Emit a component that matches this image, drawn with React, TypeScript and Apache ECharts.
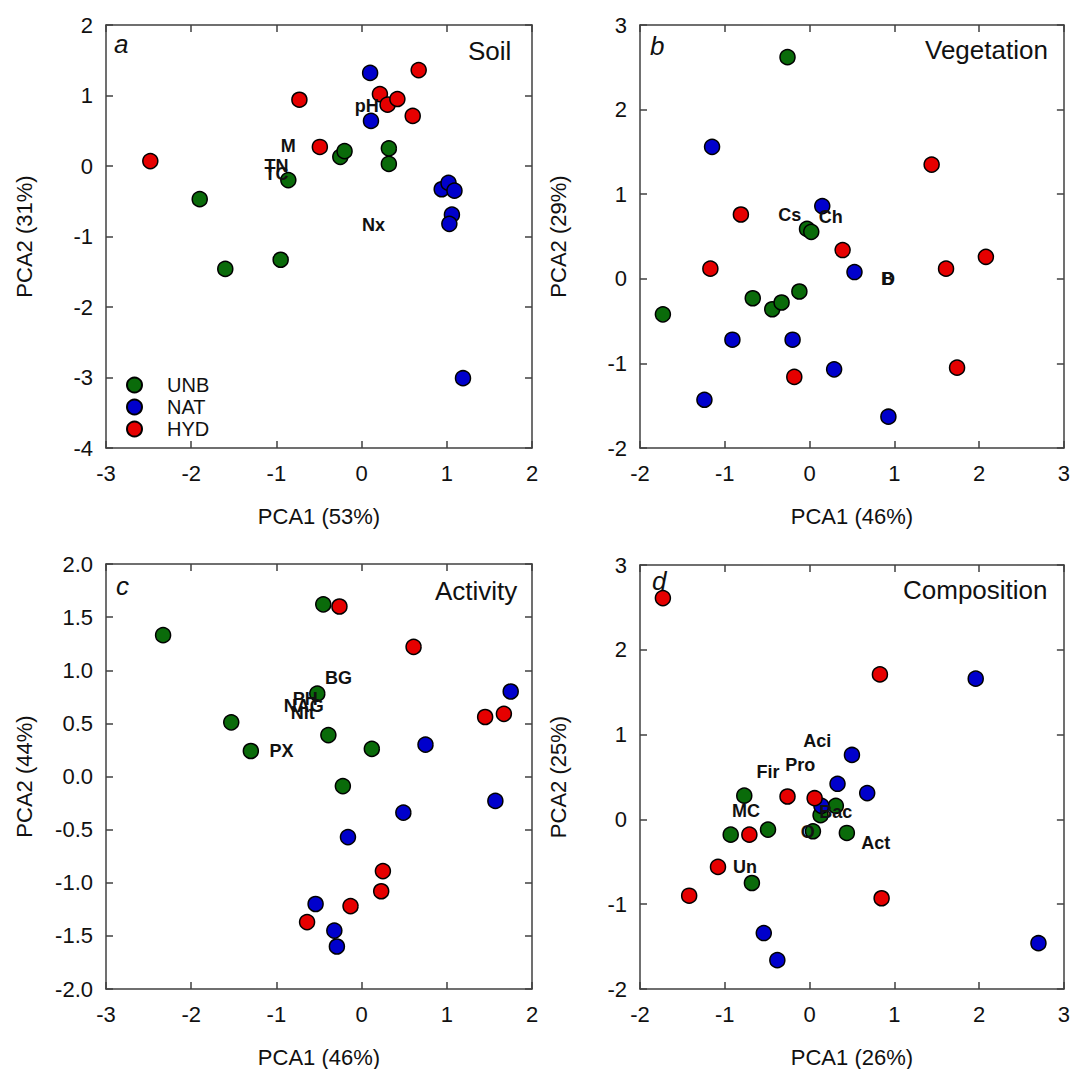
import React, { useEffect, useRef } from 'react';
import * as echarts from 'echarts';

// ---------- data ----------
const groupNames = ['UNB', 'NAT', 'HYD'];
const groupColors = ['#0a6b0a', '#0000cc', '#e60000'];

// Panel a: Soil
const soilUNB = [[-1.90, -0.47], [-1.60, -1.46], [-0.95, -1.33], [-0.86, -0.20], [-0.25, 0.13], [-0.20, 0.21], [0.32, 0.25], [0.32, 0.03]];
const soilNAT = [[0.10, 1.32], [0.11, 0.64], [0.94, -0.33], [1.02, -0.24], [1.09, -0.35], [1.06, -0.69], [1.03, -0.82], [1.19, -3.01]];
const soilHYD = [[-2.48, 0.07], [-0.73, 0.94], [-0.49, 0.27], [0.215, 1.02], [0.305, 0.87], [0.42, 0.95], [0.60, 0.71], [0.67, 1.36]];
const soilLoadNames = ['pH', 'M', 'TN', 'TC', 'Nx'];
const soilLoadPos = [[0.06, 0.85], [-0.86, 0.29], [-1.0, 0.0], [-1.0, -0.11], [0.14, -0.83]];

// Panel b: Vegetation
const vegUNB = [[-0.26, 2.62], [-1.73, -0.42], [-0.67, -0.23], [-0.44, -0.36], [-0.33, -0.28], [-0.12, -0.15], [-0.03, 0.59], [0.02, 0.555]];
const vegNAT = [[-1.15, 1.56], [0.15, 0.86], [0.53, 0.08], [-0.91, -0.72], [-0.20, -0.72], [0.29, -1.07], [-1.24, -1.43], [0.93, -1.63]];
const vegHYD = [[-0.81, 0.76], [-1.17, 0.12], [0.39, 0.34], [1.44, 1.35], [1.61, 0.12], [2.08, 0.26], [1.74, -1.05], [-0.18, -1.16]];
const vegLoadNames = ['Cs', 'Ch', 'B', 'D'];
const vegLoadPos = [[-0.235, 0.76], [0.25, 0.73], [0.92, 0.0], [0.93, 0.0]];

// Panel c: Activity
const actUNB = [[-2.33, 1.33], [-0.45, 1.62], [-0.52, 0.78], [-1.53, 0.51], [-1.30, 0.24], [-0.39, 0.39], [0.12, 0.26], [-0.22, -0.09]];
const actNAT = [[1.75, 0.80], [0.75, 0.30], [1.57, -0.23], [0.49, -0.34], [-0.16, -0.57], [-0.54, -1.20], [-0.32, -1.45], [-0.29, -1.60]];
const actHYD = [[-0.26, 1.60], [0.61, 1.22], [1.45, 0.56], [1.67, 0.59], [0.25, -0.89], [0.23, -1.08], [-0.13, -1.22], [-0.64, -1.37]];
const actLoadNames = ['BG', 'PH', 'NAG', 'Nit', 'PX'];
const actLoadPos = [[-0.27, 0.93], [-0.66, 0.73], [-0.68, 0.66], [-0.69, 0.60], [-0.94, 0.24]];

// Panel d: Composition
const compUNB = [[-0.77, 0.28], [-0.93, -0.18], [-0.49, -0.12], [0.04, -0.14], [0.13, 0.05], [0.31, 0.16], [0.44, -0.16], [-0.68, -0.75]];
const compNAT = [[1.96, 1.66], [0.50, 0.76], [0.33, 0.42], [0.68, 0.31], [0.14, 0.16], [-0.54, -1.34], [-0.38, -1.66], [2.70, -1.46]];
const compHYD = [[-1.73, 2.61], [0.83, 1.71], [-0.26, 0.27], [0.06, 0.25], [-0.71, -0.18], [-1.08, -0.56], [-1.42, -0.90], [0.85, -0.93]];
const compLoadNames = ['Aci', 'Pro', 'Fir', 'MC', 'Bac', 'O', 'Act', 'Un'];
const compLoadPos = [[0.09, 0.92], [-0.11, 0.64], [-0.49, 0.56], [-0.75, 0.10], [0.31, 0.09], [-0.02, -0.15], [0.78, -0.28], [-0.76, -0.56]];

const panelLetters = ['a', 'b', 'c', 'd'];
const panelTitles = ['Soil', 'Vegetation', 'Activity', 'Composition'];
const xAxisTitles = ['PCA1 (53%)', 'PCA1 (46%)', 'PCA1 (46%)', 'PCA1 (26%)'];
const yAxisTitles = ['PCA2 (31%)', 'PCA2 (29%)', 'PCA2 (44%)', 'PCA2 (25%)'];

// ---------- layout ----------
const FONT = '"Liberation Sans", Arial, Helvetica, sans-serif';
const AXIS_COLOR = '#404040';
const TEXT_COLOR = '#111111';

const panels = [
  { grid: { left: 106, top: 25, width: 426, height: 423 }, x: [-3, 2, 1], y: [-4, 2, 1], dec: 0,
    groups: [soilUNB, soilNAT, soilHYD], loadNames: soilLoadNames, loadPos: soilLoadPos,
    letterPos: [114, 44], titlePos: [468, 51] },
  { grid: { left: 640, top: 25, width: 425, height: 423 }, x: [-2, 3, 1], y: [-2, 3, 1], dec: 0,
    groups: [vegUNB, vegNAT, vegHYD], loadNames: vegLoadNames, loadPos: vegLoadPos,
    letterPos: [650, 46], titlePos: [925, 50] },
  { grid: { left: 106, top: 564, width: 426, height: 425 }, x: [-3, 2, 1], y: [-2, 2, 0.5], dec: 1,
    groups: [actUNB, actNAT, actHYD], loadNames: actLoadNames, loadPos: actLoadPos,
    letterPos: [116, 586], titlePos: [435, 591] },
  { grid: { left: 640, top: 565, width: 425, height: 425 }, x: [-2, 3, 1], y: [-2, 3, 1], dec: 0,
    groups: [compUNB, compNAT, compHYD], loadNames: compLoadNames, loadPos: compLoadPos,
    letterPos: [652, 581], titlePos: [903, 590] },
];

function buildOption() {
  const grid: any[] = [];
  const xAxis: any[] = [];
  const yAxis: any[] = [];
  const series: any[] = [];
  const graphic: any[] = [];

  const lineStyle = { color: AXIS_COLOR, width: 1.5 };

  panels.forEach((p, i) => {
    grid.push({ ...p.grid, containLabel: false });
    const common = {
      type: 'value',
      gridIndex: i,
      axisLine: { show: true, onZero: false, lineStyle },
      axisTick: { show: true, inside: true, length: 7, lineStyle },
      splitLine: { show: false },
    };
    xAxis.push({
      ...common,
      position: 'bottom',
      min: p.x[0], max: p.x[1], interval: p.x[2],
      axisLabel: { show: true, fontSize: 22, color: TEXT_COLOR, fontFamily: FONT, margin: 14, showMinLabel: true, showMaxLabel: true },
      name: xAxisTitles[i], nameLocation: 'middle', nameGap: 57,
      nameTextStyle: { fontSize: 22, color: TEXT_COLOR, fontFamily: FONT },
    });
    xAxis.push({
      ...common,
      position: 'top',
      min: p.x[0], max: p.x[1], interval: p.x[2],
      axisLabel: { show: false },
    });
    yAxis.push({
      ...common,
      position: 'left',
      min: p.y[0], max: p.y[1], interval: p.y[2],
      axisLabel: {
        show: true, fontSize: 22, color: TEXT_COLOR, fontFamily: FONT, margin: 13,
        showMinLabel: true, showMaxLabel: true,
        formatter: (v: number) => v.toFixed(p.dec),
      },
      name: yAxisTitles[i], nameLocation: 'middle', nameGap: 71,
      nameTextStyle: { fontSize: 22, color: TEXT_COLOR, fontFamily: FONT },
    });
    yAxis.push({
      ...common,
      position: 'right',
      min: p.y[0], max: p.y[1], interval: p.y[2],
      axisLabel: { show: false },
    });

    const order = [1, 0, 2]; // draw NAT, then UNB, then HYD
    order.forEach((g) => {
      series.push({
        type: 'scatter',
        name: groupNames[g],
        xAxisIndex: 2 * i,
        yAxisIndex: 2 * i,
        data: p.groups[g],
        symbol: 'circle',
        symbolSize: 15,
        itemStyle: { color: groupColors[g], borderColor: '#000', borderWidth: 1.5, opacity: 1 },
        emphasis: { disabled: true },
        silent: true,
        z: 3 + g,
      });
    });

    const names = p.loadNames;
    series.push({
      type: 'custom',
      name: 'loadings' + i,
      xAxisIndex: 2 * i,
      yAxisIndex: 2 * i,
      coordinateSystem: 'cartesian2d',
      data: p.loadPos,
      silent: true,
      z: 10,
      renderItem: (params: any, api: any) => {
        const pt = api.coord([api.value(0), api.value(1)]);
        return {
          type: 'text',
          x: pt[0],
          y: pt[1],
          style: {
            text: names[params.dataIndex],
            fill: TEXT_COLOR,
            fontSize: 18,
            fontWeight: 'bold',
            fontFamily: FONT,
            align: 'center',
            verticalAlign: 'middle',
          },
        };
      },
    });

    graphic.push({
      type: 'text',
      x: p.letterPos[0], y: p.letterPos[1],
      style: {
        text: panelLetters[i], fontSize: 26, fontStyle: 'italic', fontFamily: FONT,
        fill: TEXT_COLOR, textAlign: 'left', textVerticalAlign: 'middle',
      },
      z: 20,
    });
    graphic.push({
      type: 'text',
      x: p.titlePos[0], y: p.titlePos[1],
      style: {
        text: panelTitles[i], fontSize: 26, fontFamily: FONT,
        fill: TEXT_COLOR, textAlign: 'left', textVerticalAlign: 'middle',
      },
      z: 20,
    });
  });

  return {
    animation: false,
    backgroundColor: '#ffffff',
    grid,
    xAxis,
    yAxis,
    series,
    graphic,
    legend: {
      show: true,
      data: groupNames,
      orient: 'vertical',
      left: 126,
      top: 375,
      padding: 0,
      itemWidth: 15,
      itemHeight: 15,
      itemGap: 2,
      icon: 'circle',
      selectedMode: false,
      textStyle: { fontSize: 20, lineHeight: 20, color: TEXT_COLOR, fontFamily: FONT, padding: [0, 0, 0, 20] },
    },
  };
}

export default function App() {
  const ref = useRef<HTMLDivElement>(null);
  useEffect(() => {
    if (!ref.current) return;
    const chart = echarts.init(ref.current, undefined, { renderer: 'svg' });
    chart.setOption(buildOption() as any);
    return () => chart.dispose();
  }, []);
  return (
    <div
      ref={ref}
      style={{ position: 'absolute', left: 0, top: 0, width: 1073, height: 1069, background: '#fff' }}
    />
  );
}
